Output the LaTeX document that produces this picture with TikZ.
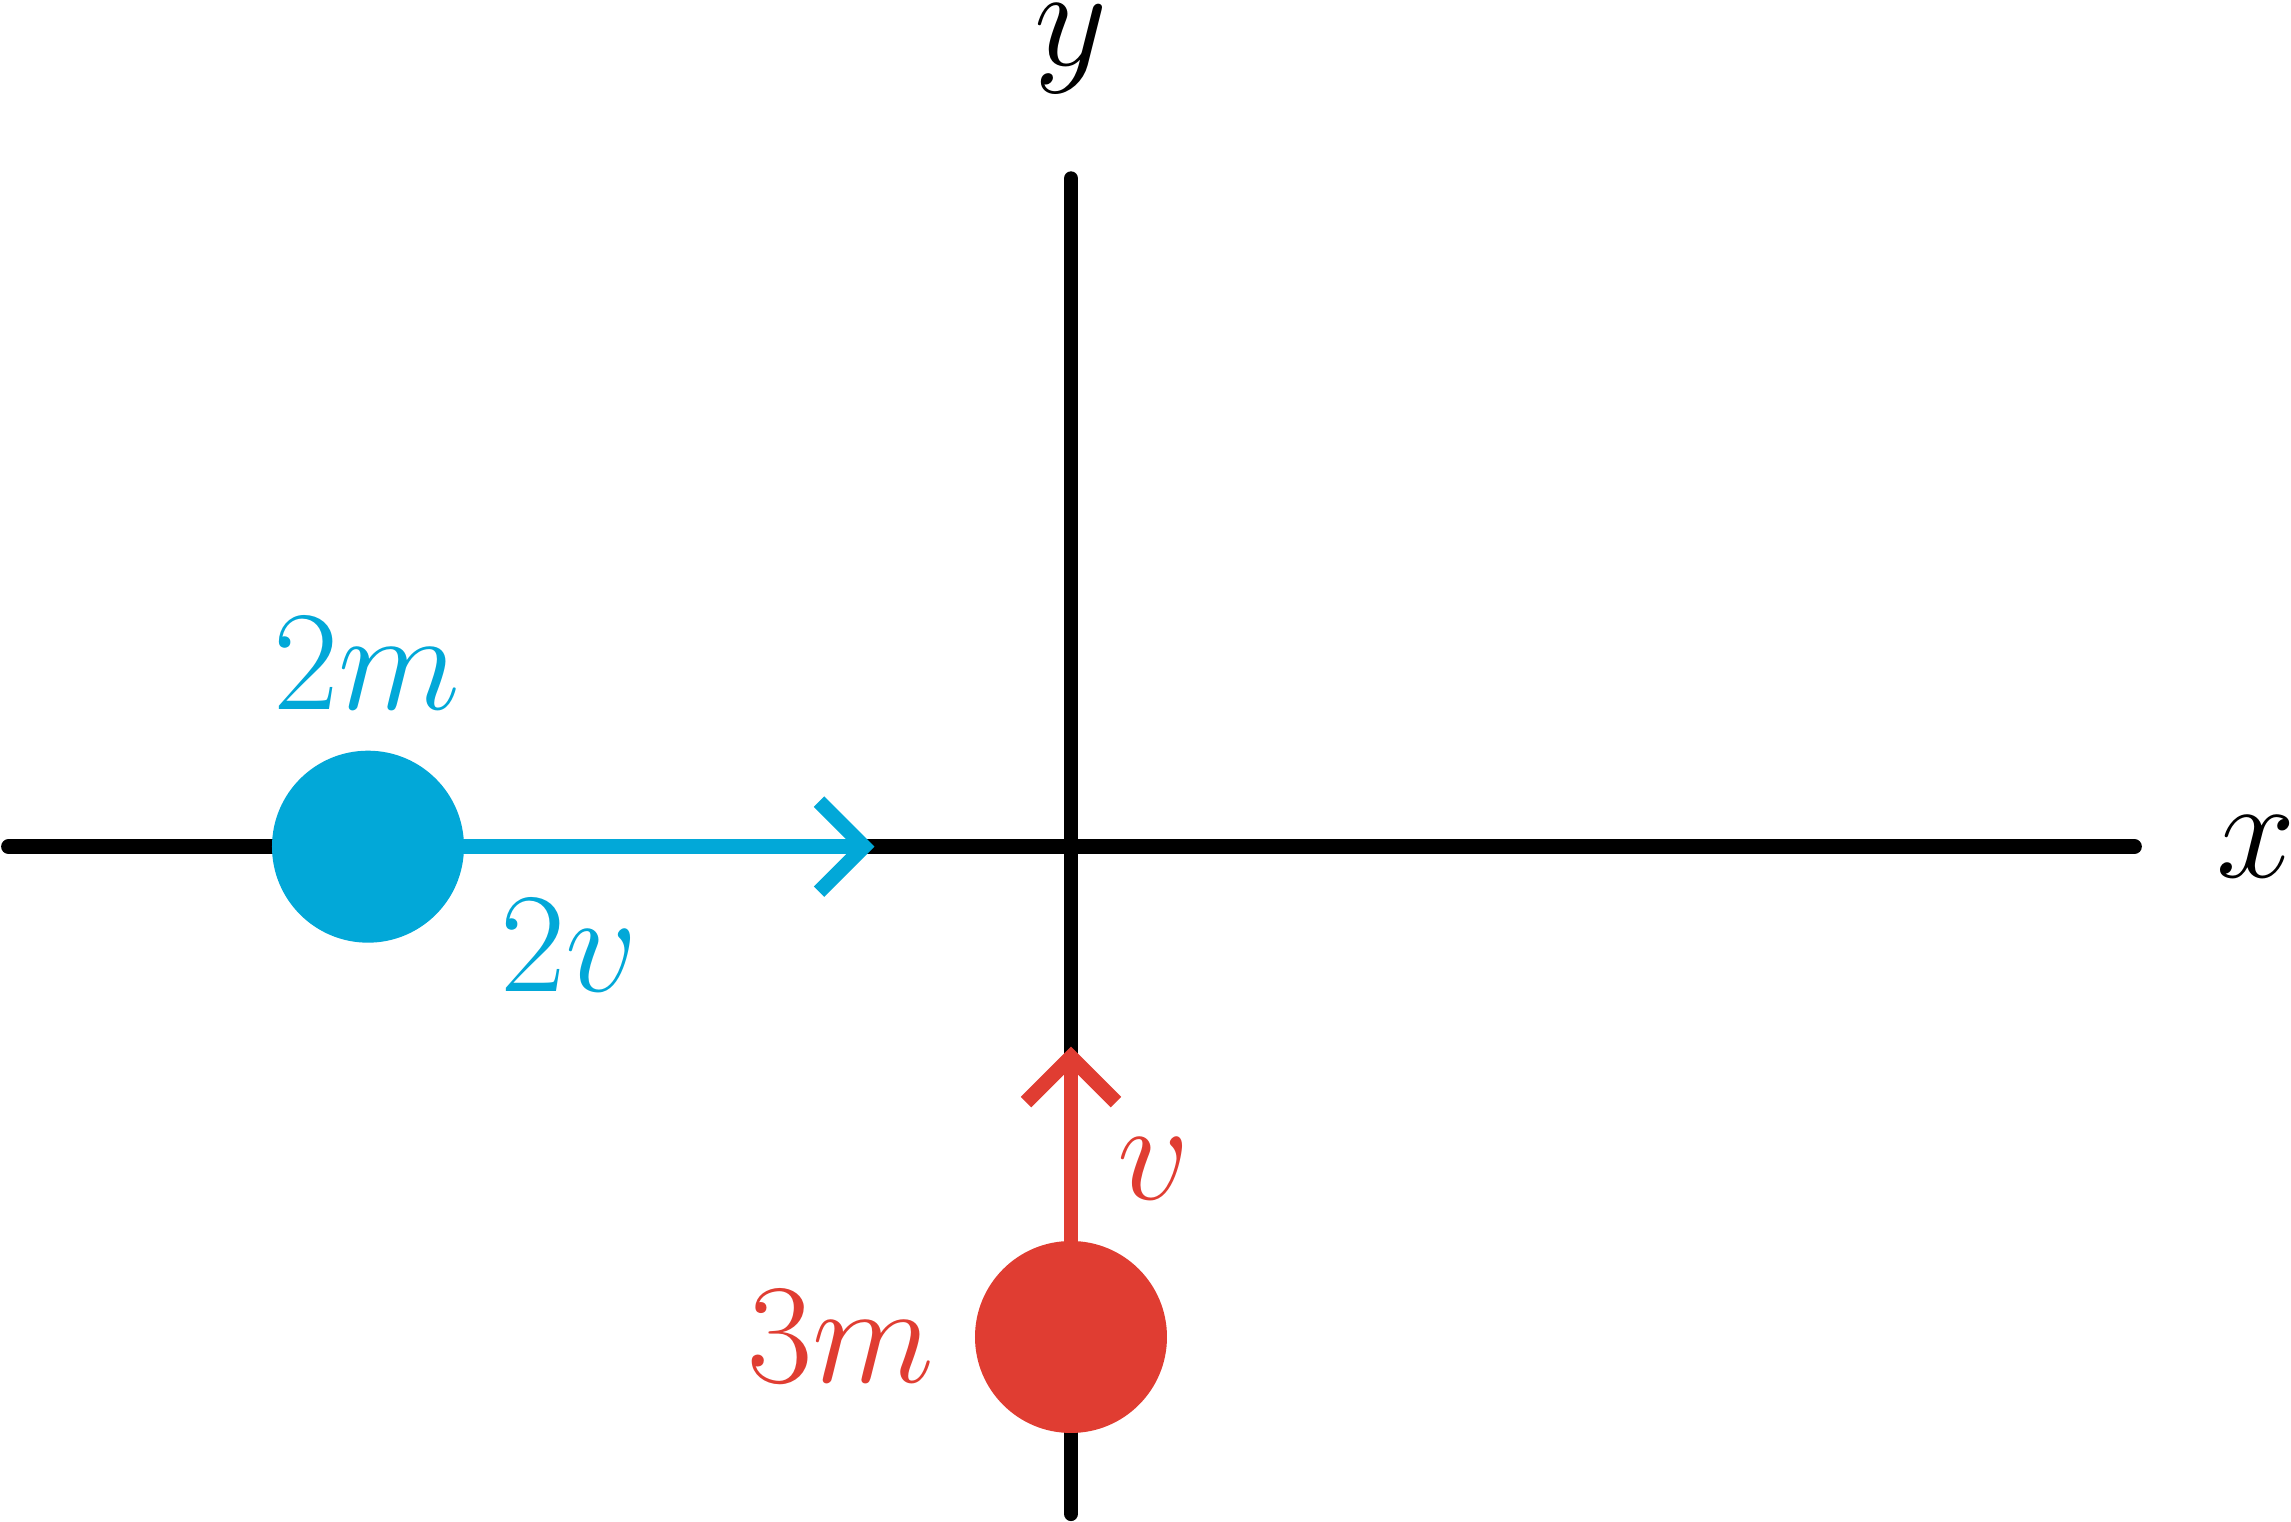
\RequirePackage{fix-cm}
\documentclass[tikz,border=0pt]{standalone}
\usepackage{tikz}
\usepackage{xcolor}
\usetikzlibrary{arrows.meta}
\definecolor{vblack}{HTML}{000000}
\definecolor{vblue}{HTML}{02A8D8}
\definecolor{vred}{HTML}{E03D32}
\tikzset{
	axisline/.style = {line width = 4.2pt, draw = vblack, line cap = round},
	velarrow/.style = {line width = 4.2pt, -{Straight Barb[length = 0.45cm, width = 0.9cm]}},
	ball/.style = {circle, inner sep = 0pt, minimum size = 1.92cm},
	lbl/.style = {anchor = base, inner sep = 0pt, font = \fontsize{40.5}{48}\selectfont}
}

\begin{document}
\begin{tikzpicture}
	\useasboundingbox (-10.71,-6.753) rectangle (12.20,8.467);
	% axes
	\coordinate (xl) at (-10.625,0);
	\coordinate (xr) at (10.635,0);
	\coordinate (yb) at (0,-6.67);
	\coordinate (yt) at (0,6.68);
	\draw[axisline] (xl) -- (xr);
	\draw[axisline] (yb) -- (yt);
	\node[lbl] (xlab) at (11.85,-0.31) {$x$};
	\node[lbl] (ylab) at (0,7.81) {$y$};
	% ball-2m
	\coordinate (c2m) at (-7.03,0);
	\coordinate (tip2v) at (-1.965,0);
	\draw[velarrow, draw = vblue] (c2m) -- (tip2v);
	\node[ball, fill = vblue] (ball2m) at (c2m) {};
	\node[lbl, color = vblue] (lab2m) at (-7.04,1.375) {$2m$};
	\node[lbl, color = vblue] (lab2v) at (-5.02,-1.453) {$2v$};
	% ball-3m
	\coordinate (c3m) at (0,-4.903);
	\coordinate (tipv) at (0,-2.0);
	\draw[velarrow, draw = vred] (c3m) -- (tipv);
	\node[ball, fill = vred] (ball3m) at (c3m) {};
	\node[lbl, color = vred] (lab3m) at (-2.30,-5.363) {$3m$};
	\node[lbl, color = vred] (labv) at (0.83,-3.533) {$v$};
\end{tikzpicture}
\end{document}
